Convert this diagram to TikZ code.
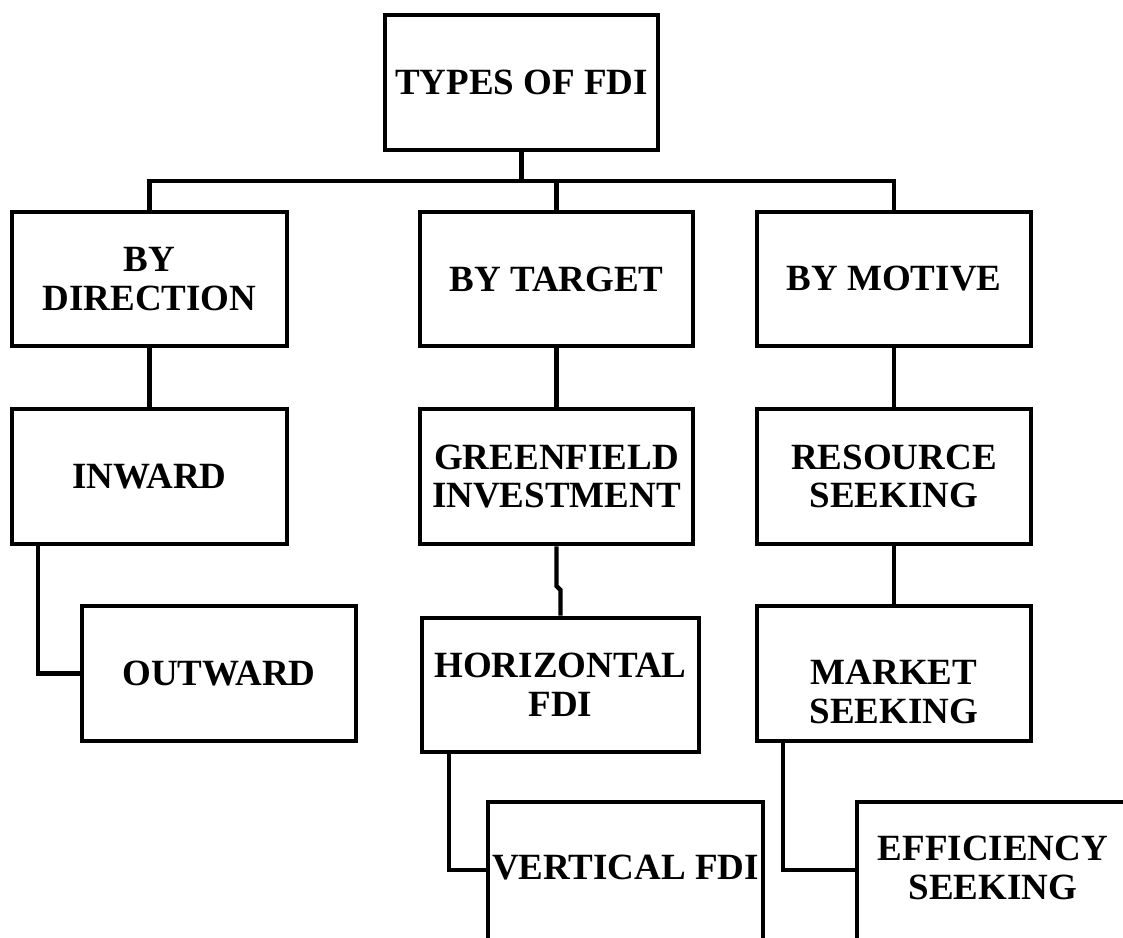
\documentclass[tikz,border=0pt]{standalone}
\usepackage{fontspec}
\setmainfont{Liberation Serif}
\begin{document}
\begin{tikzpicture}[x=1pt,y=-1pt,
  every node/.style={font=\bfseries\fontsize{37}{38.5}\selectfont},
  box/.style={draw=black, line width=4.6pt, fill=white, align=center, inner sep=0pt, minimum width=#1},
  box/.default=274pt,
  txt/.style={align=center, inner sep=0pt},
  conn/.style={draw=black, line width=4.4pt}]
\useasboundingbox (0,0) rectangle (1123,937);
\clip (0,0) rectangle (1123,937);
% junction points
\coordinate (bus1) at (150,181);
\coordinate (bus2) at (894,181);
\coordinate (jA) at (38,673.5);
\coordinate (jB) at (449,870);
\coordinate (jC) at (783,870);
% boxes
\node[box=273pt, minimum height=135pt] (top) at (521.5,82.5) {TYPES OF FDI};
\node[box=275pt, minimum height=134pt] (dir) at (149.5,279) {BY\\DIRECTION};
\node[box=273pt, minimum height=134pt] (tgt) at (556.5,279) {BY TARGET};
\node[box=274pt, minimum height=134pt] (mot) at (894,279) {BY MOTIVE};
\node[box=275pt, minimum height=135pt] (inw) at (149.5,476.5) {INWARD};
\node[box=274pt, minimum height=135pt] (outw) at (219,673.5) {OUTWARD};
\node[box=273pt, minimum height=135pt] (green) at (556.5,476.5) {GREENFIELD\\INVESTMENT};
\node[box=274pt, minimum height=135pt] (res) at (894,476.5) {RESOURCE\\SEEKING};
\node[box=277pt, minimum height=134pt] (horiz) at (560.5,685) {HORIZONTAL\\FDI};
\node[box=274pt, minimum height=135pt] (mkt) at (894,673.5) {};
\node[txt] (mktT) at (894,692) {MARKET\\SEEKING};
\node[box=275pt, minimum height=200pt] (vert) at (625.5,902) {};
\node[txt] (vertT) at (625.5,868) {VERTICAL FDI};
\node[box=278pt, minimum height=200pt] (eff) at (996,902) {};
\node[txt] (effT) at (993,868) {EFFICIENCY\\SEEKING};
% connectors
\draw[conn] (top.south) -- (top.south |- bus1);
\draw[conn] (dir.north) -- (dir.north |- bus1) -- (bus2) -- (mot.north);
\draw[conn] (tgt.north |- bus1) -- (tgt.north);
\draw[conn] (dir.south) -- (inw.north);
\draw[conn] (inw.south -| jA) -- (jA) -- (outw.west);
\draw[conn] (tgt.south) -- (green.north);
\draw[conn] (green.south) -- (556.5,586) -- (560.5,590) -- (horiz.north);
\draw[conn] (horiz.south -| jB) -- (jB) -- (jB -| vert.west);
\draw[conn] (mot.south) -- (res.north);
\draw[conn] (res.south) -- (mkt.north);
\draw[conn] (mkt.south -| jC) -- (jC) -- (jC -| eff.west);
\end{tikzpicture}
\end{document}
